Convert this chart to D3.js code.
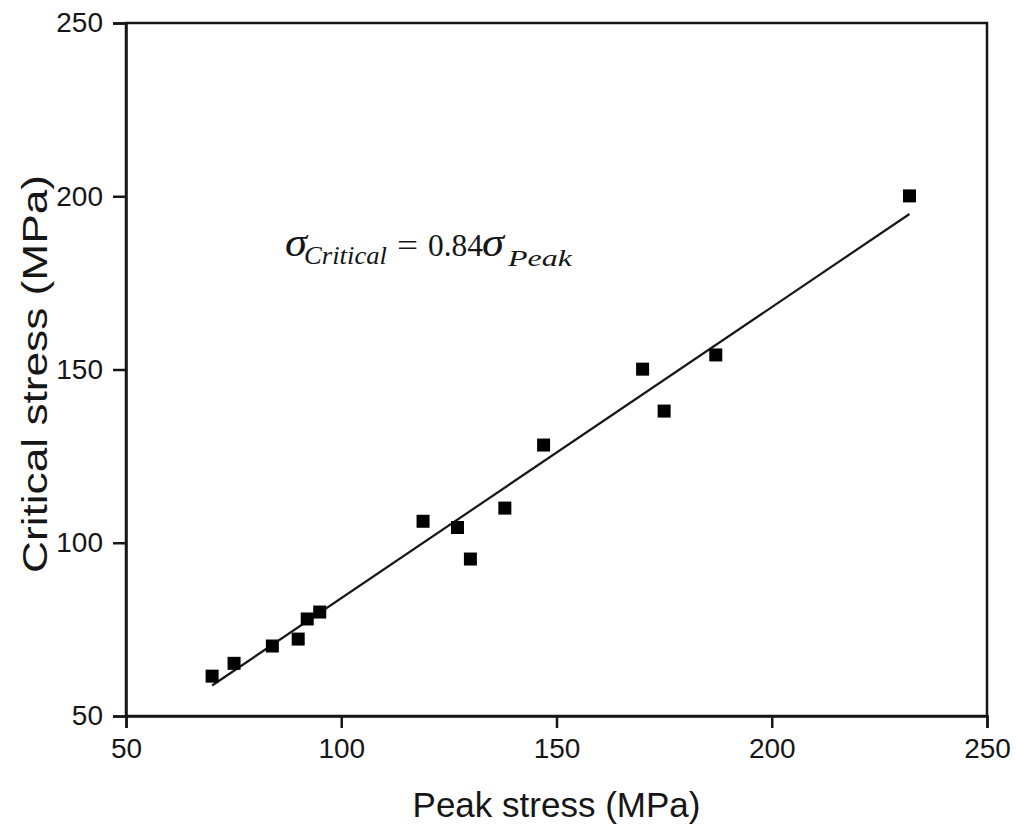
<!DOCTYPE html>
<html><head><meta charset="utf-8">
<script src="https://cdn.jsdelivr.net/npm/d3@7"></script>
<style>body{margin:0;background:#fff}svg{display:block}</style>
</head><body>
<script>
const peakStress = [70.0, 75.1, 84.0, 90.0, 92.1, 95.0, 119.0, 127.0, 130.0, 138.0, 147.0, 170.0, 175.0, 187.0, 232.0];
const criticalStress = [61.5, 65.2, 70.2, 72.2, 78.0, 80.0, 106.2, 104.4, 95.3, 110.0, 128.2, 150.1, 138.0, 154.2, 200.1];
const fitSlope = 0.84;
const fitRange = [70, 232];
const xTicks = [50, 100, 150, 200, 250];
const yTicks = [50, 100, 150, 200, 250];

const W = 1016, H = 835;
const m = {left:126, right:1016-987, top:23, bottom:835-716};
const svg = d3.select("body").append("svg").attr("width", W).attr("height", H);
const x = d3.scaleLinear().domain([50,250]).range([m.left, W-m.right]);
const y = d3.scaleLinear().domain([50,250]).range([H-m.bottom, m.top]);
const ink = "#161616";

// frame
svg.append("rect").attr("x", x(50)).attr("y", y(250)).attr("width", x(250)-x(50)).attr("height", y(50)-y(250))
  .attr("fill","none").attr("stroke",ink).attr("stroke-width",2.5);

const xa = svg.append("g").attr("transform",`translate(0,${y(50)})`)
  .call(d3.axisBottom(x).tickValues(xTicks).tickSize(12).tickPadding(10).tickFormat(d3.format("d")));
const ya = svg.append("g").attr("transform",`translate(${x(50)},0)`)
  .call(d3.axisLeft(y).tickValues(yTicks).tickSize(13).tickPadding(10).tickFormat(d3.format("d")));
[xa, ya].forEach(a => {
  a.select(".domain").attr("stroke", ink).attr("stroke-width", 2.5);
  a.selectAll(".tick line").attr("stroke", ink).attr("stroke-width", 2.5);
  a.selectAll(".tick text").attr("fill", ink).style("font-family","Liberation Sans, Arial, sans-serif").style("font-size","28px");
});

// fit line
svg.append("line").attr("x1", x(fitRange[0])).attr("y1", y(fitSlope*fitRange[0]))
  .attr("x2", x(fitRange[1])).attr("y2", y(fitSlope*fitRange[1]))
  .attr("stroke", ink).attr("stroke-width", 2.2);

// points
const s = 13;
svg.selectAll("rect.pt").data(peakStress.map((p,i)=>[p,criticalStress[i]])).enter().append("rect")
  .attr("class","pt").attr("x", d=>x(d[0])-s/2).attr("y", d=>y(d[1])-s/2).attr("width", s).attr("height", s).attr("fill", "#000");

// axis titles
svg.append("text").attr("x", (x(50)+x(250))/2).attr("y", 817).attr("text-anchor","middle")
  .style("font-family","Liberation Sans, Arial, sans-serif").style("font-size","35px").attr("fill", ink)
  .text("Peak stress (MPa)");
svg.append("text").attr("transform","translate(47,374) rotate(-90)").attr("text-anchor","middle")
  .attr("textLength", 398).attr("lengthAdjust","spacingAndGlyphs")
  .style("font-family","Liberation Sans, Arial, sans-serif").style("font-size","35px").attr("fill", ink)
  .text("Critical stress (MPa)");

// equation
const eq = svg.append("g").style("font-family","Liberation Serif, Times New Roman, serif").attr("fill", ink);
const seg = (t, xx, yy, fs, it, len) => {
  const e = eq.append("text").attr("x", xx).attr("y", yy).style("font-size", fs+"px").style("font-style", it ? "italic" : "normal").text(t);
  if (len) e.attr("textLength", len).attr("lengthAdjust","spacingAndGlyphs");
};
seg("σ", 285, 256, 40, true, 22);
seg("Critical", 304, 264, 26, true, 83);
seg("=", 397, 256, 32, false, 21);
seg("0.84", 428, 256, 31, false, 55);
seg("σ", 482, 256, 40, true, 22);
seg("Peak", 508, 266, 24, true, 64);
</script>
</body></html>
